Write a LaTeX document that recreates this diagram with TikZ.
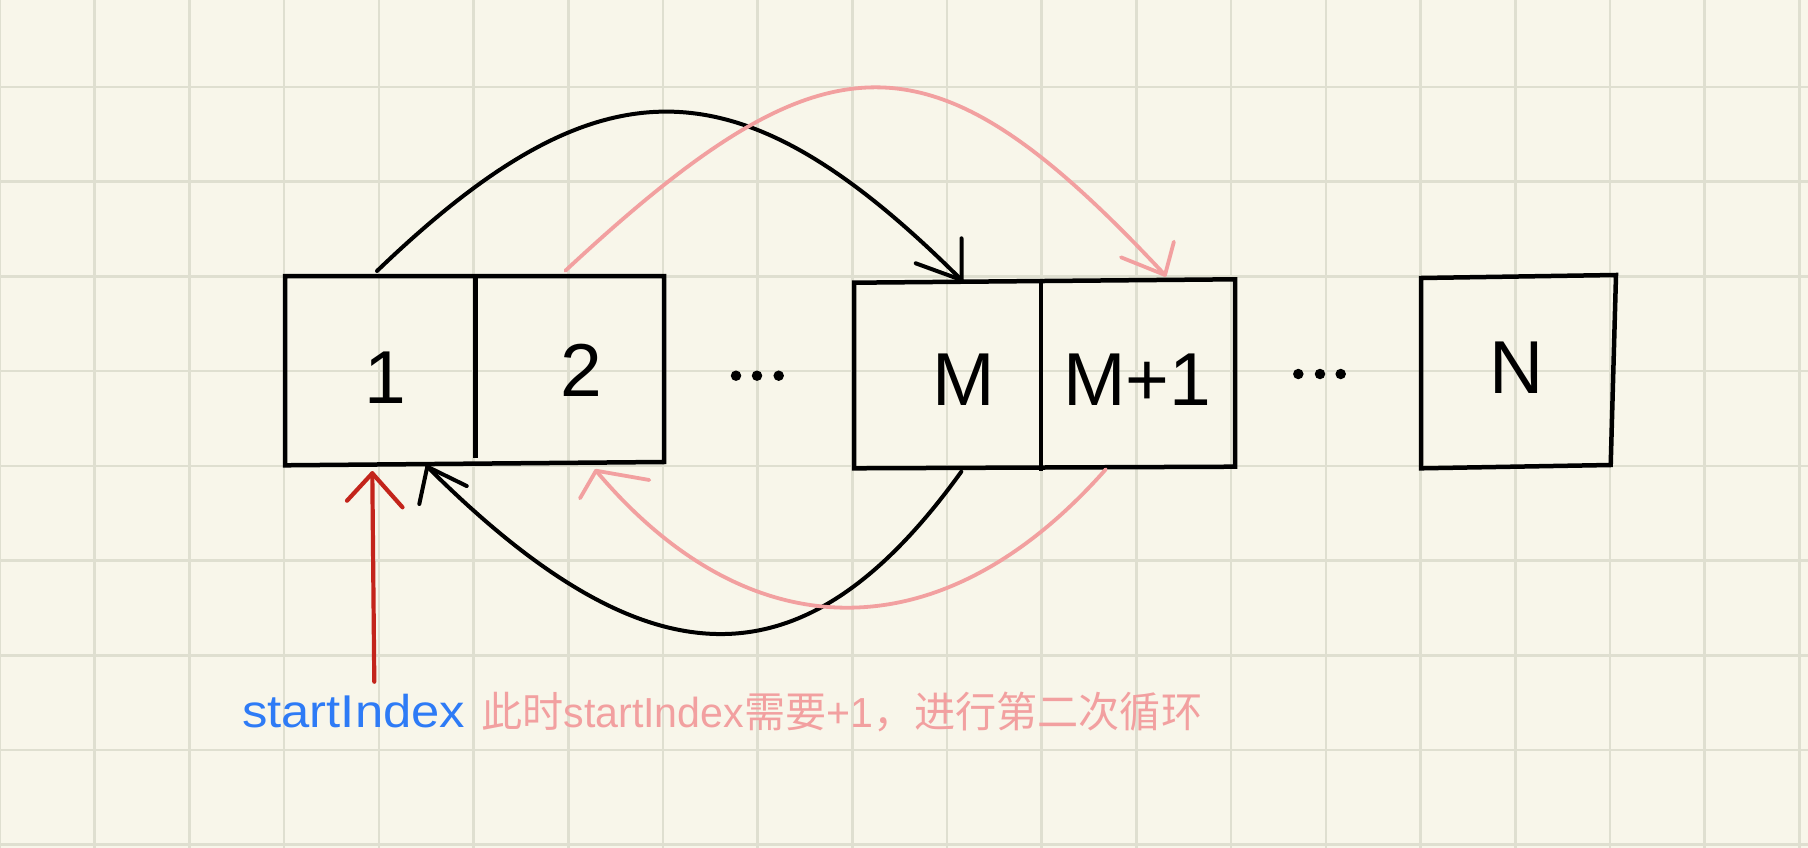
\documentclass[tikz,border=0pt]{standalone}
\usepackage{fontspec}
\usepackage{graphicx}
\setmainfont{Liberation Sans}
\newfontfamily\cjk{Noto Sans CJK SC}
\definecolor{bg}{HTML}{F8F6EA}
\definecolor{gridc}{HTML}{DFDFD0}
\definecolor{pinkc}{HTML}{F2A0A0}
\definecolor{redc}{HTML}{C3241B}
\definecolor{bluec}{HTML}{2E7BF6}
\tikzset{
  gridline/.style={draw=gridc, line width=2.6pt},
  boxline/.style={draw=black, line width=4.5pt, line join=miter},
  blackarc/.style={draw=black, line width=4pt, line cap=round, line join=round},
  pinkarc/.style={draw=pinkc, line width=3.8pt, line cap=round, line join=round},
  redarc/.style={draw=redc, line width=4.2pt, line cap=round, line join=round},
  celltext/.style={inner sep=0pt, anchor=base, font=\fontsize{75}{80}\selectfont},
  dot/.style={circle, fill=black, inner sep=0pt, minimum size=10.5pt},
}
\begin{document}
\begin{tikzpicture}[x=1pt,y=-1pt]
\fill[bg] (0,0) rectangle (1808,848);
\useasboundingbox (0,0) rectangle (1808,848);
% grid
\foreach \i in {0,...,19} \draw[gridline] ({\i*94.7},0) -- ({\i*94.7},848);
\foreach \j in {0,...,8} \draw[gridline] (0,{87+\j*94.7}) -- (1808,{87+\j*94.7});

% boxes
\draw[boxline] (285,276) -- (664,276) -- (664,462) -- (285,465.3) -- cycle;
\draw[boxline] (475.7,276) -- (475.7,458);
\draw[boxline] (854,282.7) -- (1235,279.3) -- (1235,466.7) -- (854,468.3) -- cycle;
\draw[boxline] (1041,281) -- (1041,471);
\draw[boxline] (1421,278) -- (1616,275) -- (1610.7,465) -- (1421,468.3) -- cycle;

% cell labels
\node[celltext] (c1) at (385,403.3) {1};
\node[celltext] (c2) at (581.7,396) {2};
\node[celltext] (cM) at (964,405) {M};
\node[celltext] (cM1) at (1137,405) {M+1};
\node[celltext] (cN) at (1517,393.3) {N};

% dots
\node[dot] (d1) at (736,375.7) {};
\node[dot] (d2) at (757,375.7) {};
\node[dot] (d3) at (778.7,375.7) {};
\node[dot] (d4) at (1298.3,374) {};
\node[dot] (d5) at (1320,374) {};
\node[dot] (d6) at (1340.7,374) {};

% arc endpoints
\coordinate (bts) at (377,271);
\coordinate (bte) at (961.5,280);
\coordinate (pts) at (565.4,270.7);
\coordinate (pte) at (1165,275);
\coordinate (bbs) at (961.3,471.7);
\coordinate (bbe) at (427.3,466.7);
\coordinate (pbs) at (1105.8,469.3);
\coordinate (pbe) at (596,470.7);
\coordinate (rs) at (374.3,681.7);
\coordinate (re) at (372.3,473.3);

% black top arc
\draw[blackarc] (bts) .. controls (600,57) and (738,57) .. (bte);
\draw[blackarc] (bte) ++(0,-41.7) -- (bte) -- ++(-45.8,-16.7);
% pink top arc
\draw[pinkarc] (pts) .. controls (829,25.5) and (932,25.5) .. (pte);
\draw[pinkarc] (pte) ++(8.9,-33.3) -- (pte) -- ++(-44,-17.7);
% black bottom arc
\draw[blackarc] (bbs) .. controls (805,689) and (650,689) .. (bbe);
\draw[blackarc] (bbe) ++(-8,37.3) -- (bbe) -- ++(39.4,19.3);
% pink bottom arc
\draw[pinkarc] (pbs) .. controls (943,653.6) and (750,653.6) .. (pbe);
\draw[pinkarc] (pbe) ++(-16,27.6) -- (pbe) -- ++(53.3,9.3);
% red arrow
\draw[redarc] (rs) -- (re);
\draw[redarc] (re) ++(-25.3,27.4) -- (re) -- ++(30.2,34);

% texts
\node[inner sep=0pt, anchor=base west, text=bluec] (lbl) at (242,727)
  {\resizebox{223pt}{\height}{\fontsize{46}{50}\selectfont startIndex}};
\node[inner sep=0pt, anchor=base west, text=pinkc] (note) at (481,727)
  {\resizebox{721pt}{\height}{\fontsize{42}{46}\selectfont{\cjk 此时}startIndex{\cjk 需要}+1{\cjk ，进行第二次循环}}};
\end{tikzpicture}
\end{document}
